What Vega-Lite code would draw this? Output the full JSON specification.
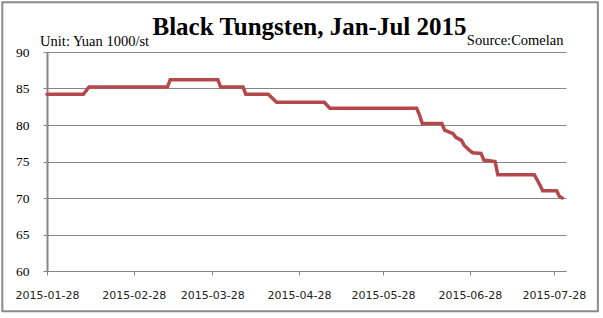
{
  "$schema": "https://vega.github.io/schema/vega-lite/v6.json",
  "width": 519,
  "height": 219,
  "padding": {"left": 1, "top": 1, "right": 0, "bottom": 0},
  "background": "white",
  "config": {"view": {"stroke": null}, "font": "Liberation Serif"},
  "title": {
    "text": "Black Tungsten, Jan-Jul 2015",
    "font": "Liberation Serif",
    "fontSize": 25,
    "fontWeight": "bold",
    "color": "black",
    "anchor": "middle",
    "frame": "group",
    "baseline": "alphabetic",
    "offset": -33,
    "dx": 3,
    "dy": 26
  },
  "layer": [
    {
      "data": {"values": [{}]},
      "mark": {"type": "rect", "fill": null, "stroke": "#8c8c8c", "strokeWidth": 2},
      "encoding": {
        "x": {"datum": {"year": 2015, "month": 1, "date": 12, "hours": 1, "utc": true}, "type": "temporal",
              "scale": {"type": "utc", "domain": [{"year": 2015, "month": 1, "date": 28, "utc": true}, {"year": 2015, "month": 8, "date": 1, "hours": 8, "utc": true}], "nice": false},
              "axis": {
                "title": "Source:Comelan",
                "titleX": 516, "titleY": -226.7, "titleAlign": "right", "titleAngle": 0, "titleBaseline": "alphabetic",
                "titleFont": "Liberation Serif", "titleFontSize": 14.5, "titleFontWeight": "normal", "titleColor": "black",
                "values": [
                  {"year": 2015, "month": 1, "date": 28, "utc": true},
                  {"year": 2015, "month": 2, "date": 28, "utc": true},
                  {"year": 2015, "month": 3, "date": 28, "utc": true},
                  {"year": 2015, "month": 4, "date": 28, "utc": true},
                  {"year": 2015, "month": 5, "date": 28, "utc": true},
                  {"year": 2015, "month": 6, "date": 28, "utc": true},
                  {"year": 2015, "month": 7, "date": 28, "utc": true}
                ],
                "format": "%Y-%m-%d",
                "labelFont": "DejaVu Sans", "labelFontSize": 11, "labelColor": "#222222",
                "labelPadding": 14, "labelOverlap": false, "labelFlush": false,
                "tickSize": 4, "tickColor": "#868686", "domainColor": "#868686", "domainWidth": 1, "grid": false
              }},
        "x2": {"datum": {"year": 2015, "month": 8, "date": 12, "hours": 17, "utc": true}},
        "y": {"datum": 96.82, "type": "quantitative", "scale": {"domain": [60, 90], "nice": false, "zero": false},
              "axis": {
                "title": "Unit: Yuan 1000/st",
                "titleX": -7.4, "titleY": -6.8, "titleAlign": "left", "titleAngle": 0, "titleBaseline": "alphabetic",
                "titleFont": "Liberation Serif", "titleFontSize": 14.5, "titleFontWeight": "normal", "titleColor": "black",
                "values": [60, 65, 70, 75, 80, 85, 90],
                "labelFont": "Liberation Serif", "labelFontSize": 13.5, "labelColor": "black", "labelPadding": 14, "labelOverlap": false,
                "tickSize": 4, "tickColor": "#868686", "domainColor": "#868686", "domainWidth": 2,
                "grid": true, "gridColor": "#868686", "gridWidth": 1
              }},
        "y2": {"datum": 54.48}
      }
    },
    {
      "data": {"values": [
        {"date": "2015-01-28", "price": 84.2},
        {"date": "2015-02-10", "price": 84.2},
        {"date": "2015-02-12", "price": 85.2},
        {"date": "2015-03-12", "price": 85.2},
        {"date": "2015-03-13", "price": 86.2},
        {"date": "2015-03-30", "price": 86.2},
        {"date": "2015-03-31", "price": 85.2},
        {"date": "2015-04-08", "price": 85.2},
        {"date": "2015-04-09", "price": 84.2},
        {"date": "2015-04-17", "price": 84.2},
        {"date": "2015-04-20", "price": 83.1},
        {"date": "2015-05-07", "price": 83.1},
        {"date": "2015-05-09", "price": 82.3},
        {"date": "2015-06-09", "price": 82.3},
        {"date": "2015-06-10", "price": 81.4},
        {"date": "2015-06-11", "price": 80.2},
        {"date": "2015-06-18", "price": 80.2},
        {"date": "2015-06-19", "price": 79.3},
        {"date": "2015-06-22", "price": 78.8},
        {"date": "2015-06-23", "price": 78.3},
        {"date": "2015-06-25", "price": 77.9},
        {"date": "2015-06-26", "price": 77.2},
        {"date": "2015-06-28", "price": 76.5},
        {"date": "2015-06-29", "price": 76.2},
        {"date": "2015-07-02", "price": 76.1},
        {"date": "2015-07-03", "price": 75.2},
        {"date": "2015-07-07", "price": 75.0},
        {"date": "2015-07-08", "price": 73.2},
        {"date": "2015-07-21", "price": 73.2},
        {"date": "2015-07-22", "price": 72.5},
        {"date": "2015-07-23", "price": 71.8},
        {"date": "2015-07-24", "price": 71.0},
        {"date": "2015-07-29", "price": 71.0},
        {"date": "2015-07-30", "price": 70.2},
        {"date": "2015-07-31", "price": 70.0}
      ]},
      "mark": {"type": "line", "color": "#B5484A", "strokeWidth": 3.5, "strokeCap": "round"},
      "encoding": {
        "x": {
          "field": "date", "type": "temporal",
          "scale": {"type": "utc", "domain": [{"year": 2015, "month": 1, "date": 28, "utc": true}, {"year": 2015, "month": 8, "date": 1, "hours": 8, "utc": true}], "nice": false},
          "axis": {
            "title": "Source:Comelan",
            "titleX": 516, "titleY": -226.7, "titleAlign": "right", "titleAngle": 0, "titleBaseline": "alphabetic",
            "titleFont": "Liberation Serif", "titleFontSize": 14.5, "titleFontWeight": "normal", "titleColor": "black",
            "values": [
              {"year": 2015, "month": 1, "date": 28, "utc": true},
              {"year": 2015, "month": 2, "date": 28, "utc": true},
              {"year": 2015, "month": 3, "date": 28, "utc": true},
              {"year": 2015, "month": 4, "date": 28, "utc": true},
              {"year": 2015, "month": 5, "date": 28, "utc": true},
              {"year": 2015, "month": 6, "date": 28, "utc": true},
              {"year": 2015, "month": 7, "date": 28, "utc": true}
            ],
            "format": "%Y-%m-%d",
            "labelFont": "DejaVu Sans", "labelFontSize": 11, "labelColor": "#222222",
            "labelPadding": 14, "labelOverlap": false, "labelFlush": false,
            "tickSize": 4, "tickColor": "#868686", "domainColor": "#868686", "domainWidth": 1, "grid": false
          }
        },
        "y": {
          "field": "price", "type": "quantitative",
          "scale": {"domain": [60, 90], "nice": false, "zero": false},
          "axis": {
            "title": "Unit: Yuan 1000/st",
            "titleX": -7.4, "titleY": -6.8, "titleAlign": "left", "titleAngle": 0, "titleBaseline": "alphabetic",
            "titleFont": "Liberation Serif", "titleFontSize": 14.5, "titleFontWeight": "normal", "titleColor": "black",
            "values": [60, 65, 70, 75, 80, 85, 90],
            "labelFont": "Liberation Serif", "labelFontSize": 13.5, "labelColor": "black", "labelPadding": 14, "labelOverlap": false,
            "tickSize": 4, "tickColor": "#868686", "domainColor": "#868686", "domainWidth": 2,
            "grid": true, "gridColor": "#868686", "gridWidth": 1
          }
        }
      }
    }
  ]
}
